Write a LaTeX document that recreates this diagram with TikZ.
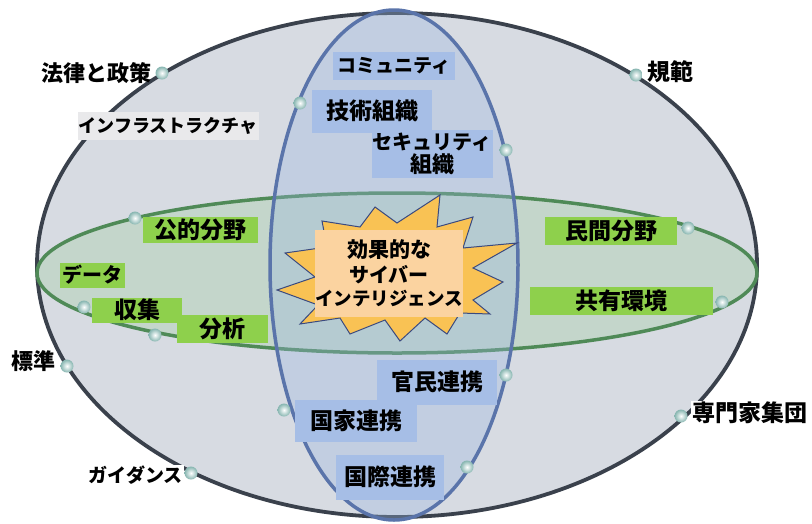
\documentclass[tikz,border=0pt]{standalone}
\usepackage{fontspec}
\setmainfont{Noto Sans CJK JP}
\newcommand\jpsz[1]{\fontsize{#1}{#1}\selectfont}
\definecolor{outerline}{HTML}{3A414C}
\definecolor{outerfill}{HTML}{D7DBE2}
\definecolor{greenline}{HTML}{4F8A57}
\definecolor{greenfill}{HTML}{C4D6CB}
\definecolor{blueline}{HTML}{5A74AA}
\definecolor{bluefill}{HTML}{98B6E0}
\definecolor{boxblue}{HTML}{A6BEE6}
\definecolor{boxgreen}{HTML}{8ED04C}
\definecolor{boxgrey}{HTML}{E9E9EB}
\definecolor{starfill}{HTML}{F9C254}
\definecolor{starline}{HTML}{3A4A80}
\definecolor{peach}{HTML}{FBD3A0}
\definecolor{ballc}{HTML}{86B5B0}
\begin{document}
\begin{tikzpicture}[x=1pt,y=-1pt,
  bluebox/.style={fill=boxblue, inner sep=0pt, font=\bfseries, align=center},
  greenbox/.style={fill=boxgreen, inner sep=0pt, font=\bfseries, align=center},
  greybox/.style={fill=boxgrey, inner sep=0pt, font=\bfseries, align=center},
  outlabel/.style={inner sep=1pt, font=\bfseries, text=black},
  sphere/.style={circle, minimum size=13pt, inner sep=0pt, shade, inner color=white, outer color=ballc}]
\useasboundingbox (0,0) rectangle (812,523);
\fill[white] (0,0) rectangle (812,523);
% ellipses
\draw[draw=outerline, line width=3.8pt, fill=outerfill] (397,265) ellipse [x radius=360pt, y radius=252pt];
\draw[draw=greenline, line width=3.5pt, fill=greenfill] (397,273) ellipse [x radius=360pt, y radius=80pt];
\draw[draw=blueline, line width=3.5pt, fill=bluefill, fill opacity=0.33] (394,265) ellipse [x radius=124pt, y radius=255pt];
% starburst
\draw[fill=starfill, draw=starline, line width=1pt, line join=miter]
  (277,290) -- (315,277) -- (285,253) -- (327,247) -- (322,221) -- (360,227)
  -- (375,207) -- (397,223) -- (440,195) -- (437,227) -- (473,217) -- (463,248)
  -- (517,243) -- (473,268) -- (503,282) -- (473,300) -- (490,314) -- (460,313)
  -- (447,334) -- (425,318) -- (400,341) -- (385,320) -- (350,334) -- (340,318)
  -- (300,324) -- (318,305) -- cycle;
\node[fill=peach, minimum width=148pt, minimum height=87pt, inner sep=0pt, font=\bfseries, align=center] (core) at (389,273)
  {\jpsz{21}効果的な\\[5pt]\jpsz{20}サイバー\\[5pt]\jpsz{18.5}インテリジェンス};
% blue boxes
\node[bluebox, minimum width=122pt, minimum height=28pt] (comm) at (394,66) {\jpsz{19}コミュニティ};
\node[bluebox, minimum width=120pt, minimum height=43pt] (tech) at (372,111) {\jpsz{23}技術組織};
\node[bluebox, minimum width=121pt, minimum height=48pt] (sec) at (432,154) {\jpsz{20}セキュリティ\\[1pt]\jpsz{22}組織};
\node[bluebox, minimum width=120pt, minimum height=45pt] (kanmin) at (437,382) {\jpsz{23}官民連携};
\node[bluebox, minimum width=122pt, minimum height=42pt] (kokka) at (356,421) {\jpsz{23}国家連携};
\node[bluebox, minimum width=108pt, minimum height=45pt] (kokusai) at (390,477) {\jpsz{23}国際連携};
% grey box
\node[greybox, minimum width=181pt, minimum height=28pt] (infra) at (168,126) {\jpsz{18}インフラストラクチャ};
% green boxes
\node[greenbox, minimum width=115pt, minimum height=26pt] (public) at (200,230) {\jpsz{23}公的分野};
\node[greenbox, minimum width=65pt, minimum height=25pt] (data) at (92,275) {\jpsz{20}データ};
\node[greenbox, minimum width=90pt, minimum height=25pt] (collect) at (137,310) {\jpsz{23}収集};
\node[greenbox, minimum width=91pt, minimum height=28pt] (analysis) at (222,329) {\jpsz{23}分析};
\node[greenbox, minimum width=132pt, minimum height=28pt] (private) at (611,231) {\jpsz{23}民間分野};
\node[greenbox, minimum width=183pt, minimum height=28pt] (shared) at (621,301) {\jpsz{23}共有環境};
% outside labels
\node[outlabel, anchor=east] (law) at (153,73) {\jpsz{22}法律と政策};
\node[outlabel, anchor=west] (norm) at (646,72) {\jpsz{23}規範};
\node[outlabel, anchor=east] (std) at (57,361) {\jpsz{22}標準};
\node[outlabel, anchor=east, fill=white] (guide) at (184,475) {\jpsz{19}ガイダンス};
\node[outlabel, anchor=west, fill=white] (expert) at (691,413) {\jpsz{23}専門家集団};
% spheres
\node[sphere] (s1) at (162,73) {};
\node[sphere] (s2) at (636,75) {};
\node[sphere] (s3) at (67,366) {};
\node[sphere] (s4) at (191,473) {};
\node[sphere] (s5) at (681,416) {};
\node[sphere] (s6) at (300,103) {};
\node[sphere] (s7) at (506,150) {};
\node[sphere] (s8) at (135,218) {};
\node[sphere] (s9) at (84,307) {};
\node[sphere] (s10) at (155,335) {};
\node[sphere] (s11) at (688,228) {};
\node[sphere] (s12) at (722,302) {};
\node[sphere] (s13) at (506,375) {};
\node[sphere] (s14) at (284,410) {};
\node[sphere] (s15) at (467,467) {};
\end{tikzpicture}
\end{document}
